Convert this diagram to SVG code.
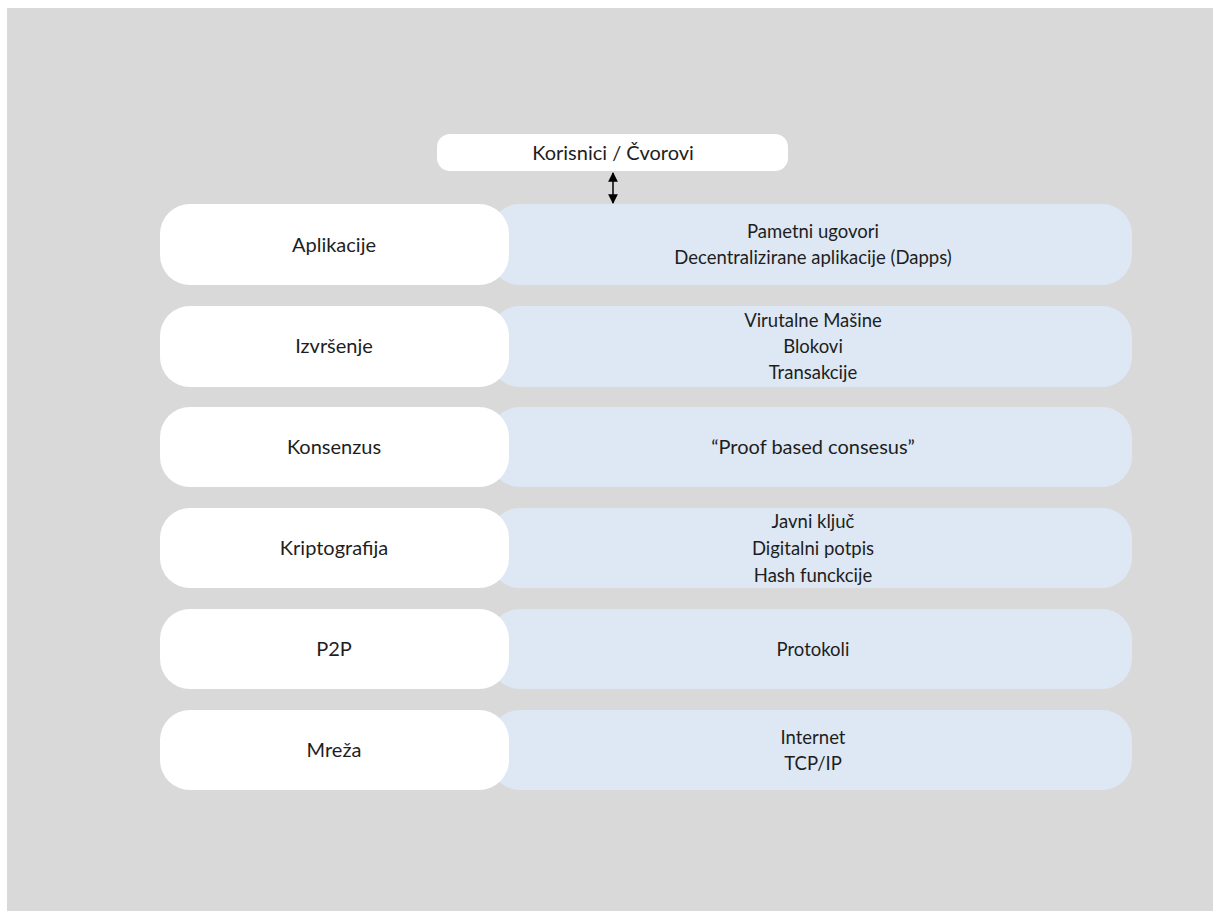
<svg xmlns="http://www.w3.org/2000/svg" width="1213" height="911" viewBox="0 0 1213 911">
<defs>
<style>
.bg{fill:#d9d9d9}
.w{fill:#ffffff}
.b{fill:#dde8f4}
text{font-family:Lato,"Open Sans","Liberation Sans",sans-serif;font-size:18.5px;fill:#1e1e1e;text-anchor:middle}
.lbl{font-size:20px}
.conn{stroke:#000;stroke-width:1.5;fill:none}
</style>
<marker id="ah" viewBox="0 0 10 10" refX="9" refY="5" markerWidth="6.5" markerHeight="6.5" orient="auto-start-reverse">
<path d="M0,0 L10,5 L0,10 z" fill="#000"/>
</marker>
</defs>
<rect x="0" y="0" width="1213" height="911" fill="#ffffff"/>
<rect class="bg" x="7" y="8" width="1206" height="903"/>

<g id="korisnici">
<rect class="w" x="437" y="134" width="351" height="37" rx="13"/>
<text class="lbl" x="613" y="160">Korisnici / Čvorovi</text>
</g>

<g id="connectors">
<line class="conn" x1="613" y1="173" x2="613" y2="203" marker-start="url(#ah)" marker-end="url(#ah)"/>
</g>

<g id="row-aplikacije">
<rect class="b" x="490" y="204" width="642" height="81" rx="30"/>
<rect class="w" x="160" y="204" width="349" height="81" rx="30"/>
<text class="lbl" x="334" y="252">Aplikacije</text>
<text x="813" y="238">Pametni ugovori</text>
<text x="813" y="264">Decentralizirane aplikacije (Dapps)</text>
</g>

<g id="row-izvrsenje">
<rect class="b" x="490" y="306" width="642" height="81" rx="30"/>
<rect class="w" x="160" y="306" width="349" height="81" rx="30"/>
<text class="lbl" x="334" y="353">Izvršenje</text>
<text x="813" y="327">Virutalne Mašine</text>
<text x="813" y="353">Blokovi</text>
<text x="813" y="379">Transakcije</text>
</g>

<g id="row-konsenzus">
<rect class="b" x="490" y="407" width="642" height="80" rx="30"/>
<rect class="w" x="160" y="407" width="349" height="80" rx="30"/>
<text class="lbl" x="334" y="454">Konsenzus</text>
<text class="lbl" x="813" y="454">“Proof based consesus”</text>
</g>

<g id="row-kriptografija">
<rect class="b" x="490" y="508" width="642" height="80" rx="30"/>
<rect class="w" x="160" y="508" width="349" height="80" rx="30"/>
<text class="lbl" x="334" y="555">Kriptografija</text>
<text x="813" y="528">Javni ključ</text>
<text x="813" y="555">Digitalni potpis</text>
<text x="813" y="582">Hash funckcije</text>
</g>

<g id="row-p2p">
<rect class="b" x="490" y="609" width="642" height="80" rx="30"/>
<rect class="w" x="160" y="609" width="349" height="80" rx="30"/>
<text class="lbl" x="334" y="656">P2P</text>
<text x="813" y="656">Protokoli</text>
</g>

<g id="row-mreza">
<rect class="b" x="490" y="710" width="642" height="80" rx="30"/>
<rect class="w" x="160" y="710" width="349" height="80" rx="30"/>
<text class="lbl" x="334" y="757">Mreža</text>
<text x="813" y="744">Internet</text>
<text x="813" y="770">TCP/IP</text>
</g>
</svg>
